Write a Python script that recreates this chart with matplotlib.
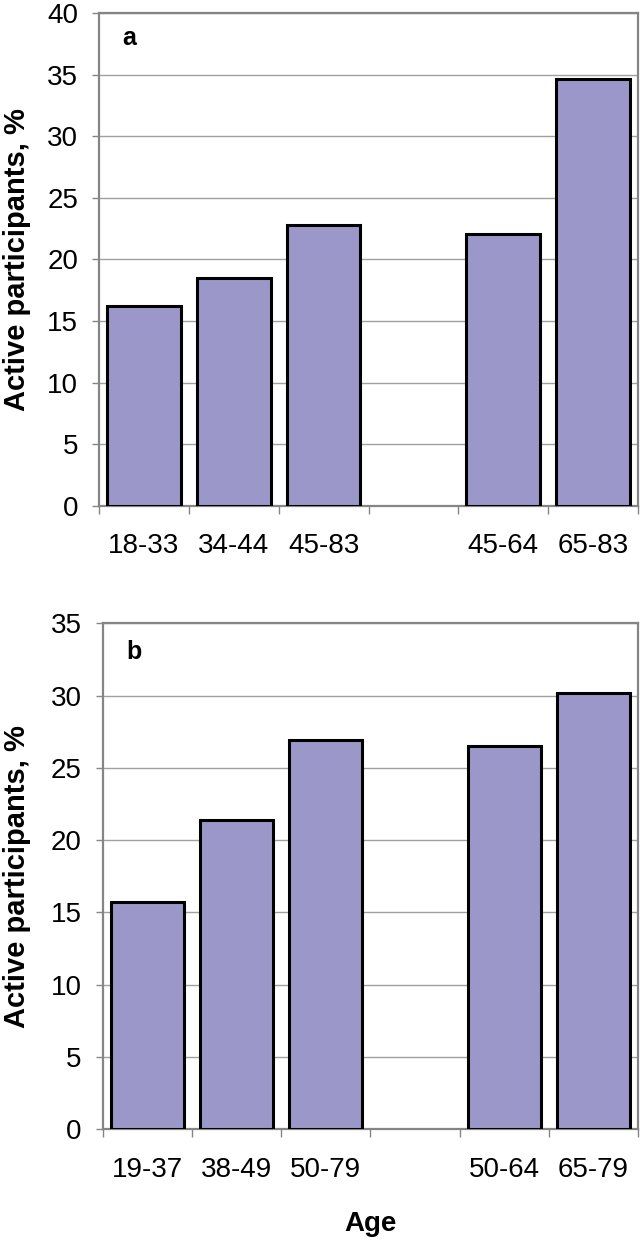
import numpy as np
import matplotlib.pyplot as plt

plt.rcParams['font.family'] = ['Liberation Sans', 'DejaVu Sans']

# panel a
ages_a = ['18-33', '34-44', '45-83', '', '45-64', '65-83']
active_a = [16.2, 18.5, 22.8, np.nan, 22.1, 34.7]

# panel b
ages_b = ['19-37', '38-49', '50-79', '', '50-64', '65-79']
active_b = [15.7, 21.4, 26.9, np.nan, 26.5, 30.2]

BAR_COLOR = '#9b98c9'
GRID_COLOR = '#a0a0a0'
FRAME_COLOR = '#858585'


def draw_panel(ax, labels, values, ymax, tag, label_x):
    x = np.arange(len(labels))
    keep = ~np.isnan(values)
    ax.bar(x[keep], np.array(values)[keep], width=0.82, color=BAR_COLOR,
           edgecolor='black', linewidth=2.2, zorder=3)

    ax.set_xlim(-0.5, len(labels) - 0.5)
    ax.set_ylim(0, ymax)
    ax.set_yticks(np.arange(0, ymax + 1, 5))
    ax.yaxis.grid(True, color=GRID_COLOR, linewidth=1.0, zorder=0)
    ax.set_axisbelow(True)

    # major ticks at slot boundaries, labels at slot centres
    ax.set_xticks(np.arange(-0.5, len(labels), 1.0))
    ax.set_xticklabels([])
    ax.set_xticks(x, minor=True)
    ax.set_xticklabels(labels, minor=True)
    ax.tick_params(axis='x', which='major', length=6, width=1, color=FRAME_COLOR)
    ax.tick_params(axis='x', which='minor', length=0, pad=20, labelsize=20)
    ax.tick_params(axis='y', length=5, width=1, color=FRAME_COLOR, pad=10,
                   labelsize=20)

    for side in ['left', 'right', 'top', 'bottom']:
        ax.spines[side].set_color(FRAME_COLOR)
        ax.spines[side].set_linewidth(1.6)

    ax.set_ylabel('Active participants, %', fontsize=21, fontweight='bold')
    ax.yaxis.set_label_coords(label_x, 0.5)
    ax.text(*tag[1], tag[0], transform=ax.transAxes, fontsize=18,
            fontweight='bold', ha='center', va='center')


fig = plt.figure(figsize=(6.42, 12.41), dpi=100)
ax_a = fig.add_axes([0.1542, 0.5925, 0.8396, 0.3968])
ax_b = fig.add_axes([0.1597, 0.0902, 0.8341, 0.4075])

draw_panel(ax_a, ages_a, active_a, 40, ('a', (0.056, 0.95)), -0.127)
draw_panel(ax_b, ages_b, active_b, 35, ('b', (0.059, 0.943)), -0.134)

ax_b.set_xlabel('Age', fontsize=20, fontweight='bold')
ax_b.xaxis.set_label_coords(0.5, -0.162)

fig.savefig('out.png', dpi=100)
